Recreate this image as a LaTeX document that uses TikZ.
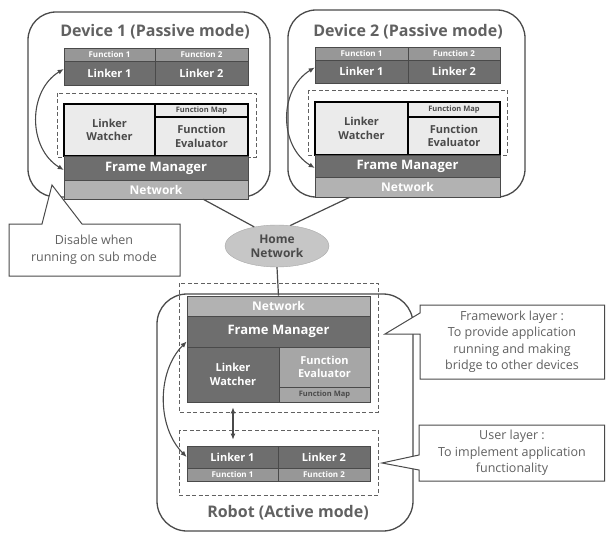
\documentclass[tikz,border=0pt]{standalone}
\usepackage{fontspec}
\setmainfont{Open Sans}
\usetikzlibrary{shapes.geometric,arrows.meta}
\definecolor{bardark}{HTML}{6E6E6E}
\definecolor{barmid}{HTML}{979797}
\definecolor{barlight}{HTML}{B2B2B2}
\definecolor{boxlight}{HTML}{EBEBEB}
\definecolor{evalmid}{HTML}{A6A6A6}
\definecolor{edgegray}{HTML}{4A4A4A}
\definecolor{textgray}{HTML}{616161}
\definecolor{homefill}{HTML}{C6C6C6}

\begin{document}
\begin{tikzpicture}
[x=1pt, y=-1pt,
device/.style={draw=edgegray, line width=1.3pt, rounded corners=28pt},
layer/.style={draw=textgray, dash pattern=on 4pt off 2.5pt, line width=0.9pt},
title/.style={text=textgray, font=\bfseries\fontsize{16}{18}\selectfont},
block/.style={draw=edgegray, line width=0.6pt, inner sep=0pt, text=white},
fun/.style={block, fill=barmid, font=\bfseries\fontsize{8}{9}\selectfont},
lnk/.style={block, fill=bardark, font=\bfseries\fontsize{11}{12}\selectfont},
frm/.style={block, fill=bardark, font=\bfseries\fontsize{13}{15}\selectfont},
net/.style={block, fill=barlight, font=\bfseries\fontsize{12}{14}\selectfont},
watch/.style={draw=black, line width=1.1pt, fill=boxlight, inner sep=0pt, text=edgegray, align=center, font=\bfseries\fontsize{11}{13.5}\selectfont},
fmap/.style={draw=black, line width=1.1pt, fill=boxlight, inner sep=0pt, text=edgegray, font=\bfseries\fontsize{7.5}{8}\selectfont},
link/.style={{Latex[length=6pt,width=5pt]}-{Latex[length=6pt,width=5pt]}, line width=1.1pt, edgegray},
wire/.style={draw=edgegray, line width=1.2pt},
note/.style={draw=edgegray, line width=1pt, fill=white},
notetext/.style={text=textgray, align=center, font=\fontsize{12.5}{16.5}\selectfont}]
\useasboundingbox (0,0) rectangle (606,535);
% device 1
\draw[device] (28,12) rectangle (270,197);
\node[title] (dev1) at (155,32) {Device 1 (Passive mode)};
\draw[layer] (57,93) rectangle (256,157);
\node[fun, minimum width=91pt, minimum height=13pt] (fa1) at (109.5,54.5) {Function 1};
\node[fun, minimum width=93pt, minimum height=13pt] (fb1) at (201.5,54.5) {Function 2};
\node[lnk, minimum width=91pt, minimum height=24pt] (la1) at (109.5,73) {Linker 1};
\node[lnk, minimum width=93pt, minimum height=24pt] (lb1) at (201.5,73) {Linker 2};
\node[watch, minimum width=91pt, minimum height=52pt] (lw1) at (109.5,130) {Linker\\Watcher};
\node[fmap, minimum width=93pt, minimum height=13pt] (map1) at (201.5,110.5) {Function Map};
\node[watch, minimum width=93pt, minimum height=39pt] (fe1) at (201.5,136.5) {Function\\Evaluator};
\node[frm, minimum width=184pt, minimum height=24pt] (mgr1) at (156,168) {Frame Manager};
\node[net, minimum width=184pt, minimum height=19pt] (net1) at (156,189.5) {Network};
\draw[link] ([yshift=4pt]la1.west) .. controls +(-36,22) and +(-36,-22) .. ([yshift=-2pt]mgr1.west);
% device 2
\draw[device] (288,10) rectangle (525,197);
\node[title] (dev2) at (408,32) {Device 2 (Passive mode)};
\draw[layer] (308,90) rectangle (507,155);
\node[fun, minimum width=93pt, minimum height=13pt] (fa2) at (361.5,53.5) {Function 1};
\node[fun, minimum width=92pt, minimum height=13pt] (fb2) at (454,53.5) {Function 2};
\node[lnk, minimum width=93pt, minimum height=23pt] (la2) at (361.5,71.5) {Linker 1};
\node[lnk, minimum width=92pt, minimum height=23pt] (lb2) at (454,71.5) {Linker 2};
\node[watch, minimum width=93pt, minimum height=53pt] (lw2) at (361.5,128.5) {Linker\\Watcher};
\node[fmap, minimum width=92pt, minimum height=15pt] (map2) at (454,109.5) {Function Map};
\node[watch, minimum width=92pt, minimum height=38pt] (fe2) at (454,136) {Function\\Evaluator};
\node[frm, minimum width=185pt, minimum height=22pt] (mgr2) at (407.5,166) {Frame Manager};
\node[net, minimum width=185pt, minimum height=20pt] (net2) at (407.5,187) {Network};
\draw[link] ([yshift=4pt]la2.west) .. controls +(-36,22) and +(-36,-22) .. ([yshift=-2pt]mgr2.west);
% home network
\node[ellipse, fill=homefill, draw=homefill!85!black, line width=0.4pt, minimum width=104pt, minimum height=42pt, inner sep=0pt, align=center, text=edgegray, font=\bfseries\fontsize{12}{14}\selectfont] (home) at (277,246) {Home\\Network};
% robot
\draw[device, rounded corners=30pt] (157,294) rectangle (413,531);
\node[title] (robot) at (288,513) {Robot (Active mode)};
\draw[layer] (179,283) rectangle (378,412);
\draw[layer] (179,430) rectangle (378,495);
\node[net, minimum width=183pt, minimum height=20pt] (rnet) at (278.5,306) {Network};
\node[frm, minimum width=183pt, minimum height=31pt] (rmgr) at (278.5,331.5) {Frame Manager};
\node[lnk, align=center, minimum width=92pt, minimum height=55pt, font=\bfseries\fontsize{11}{13.5}\selectfont] (rlw) at (233,374.5) {Linker\\Watcher};
\node[block, fill=evalmid, align=center, minimum width=91pt, minimum height=40pt, font=\bfseries\fontsize{11}{13.5}\selectfont] (rfe) at (324.5,367) {Function\\Evaluator};
\node[block, fill=evalmid, text=edgegray, minimum width=91pt, minimum height=15pt, font=\bfseries\fontsize{7.5}{8}\selectfont] (rmap) at (324.5,394.5) {Function Map};
\node[lnk, minimum width=91pt, minimum height=22pt] (rla) at (232.5,457) {Linker 1};
\node[lnk, minimum width=92pt, minimum height=22pt] (rlb) at (324,457) {Linker 2};
\node[fun, minimum width=91pt, minimum height=13pt] (rfa) at (232.5,474.5) {Function 1};
\node[fun, minimum width=92pt, minimum height=13pt] (rfb) at (324,474.5) {Function 2};
\draw[link, line width=1.5pt, shorten <=5pt, shorten >=6pt] (rlw.south) -- (rlw.south |- rla.north);
\draw[link] ([yshift=-10pt]rmgr.west) .. controls +(-30,30) and +(-30,-30) .. (rla.west);
% wires
\draw[wire] ([xshift=-45pt]net1.south east) -- (home.140);
\draw[wire] ([xshift=35pt]net2.south west) -- (home.57);
\draw[wire] (home.south) -- (rnet.north);
% notes
\draw[note] (9,224) -- (42,224) -- (52,185) -- (82,224) -- (180,224) -- (180,276) -- (9,276) -- cycle;
\node[notetext] (disable) at (94,250) {Disable when\\running on sub mode};
\draw[note] (604.5,305) -- (420,305) -- (420,313) -- (385,334) -- (420,334) -- (420,379) -- (604.5,379) -- cycle;
\node[notetext] (fwnote) at (512,342) {Framework layer :\\To provide application\\running and making\\bridge to other devices};
\draw[note] (604.5,425) -- (419,425) -- (419,455) -- (382,463) -- (419,470) -- (419,481) -- (604.5,481) -- cycle;
\node[notetext] (usrnote) at (512,453) {User layer :\\To implement application\\functionality};
\end{tikzpicture}
\end{document}
